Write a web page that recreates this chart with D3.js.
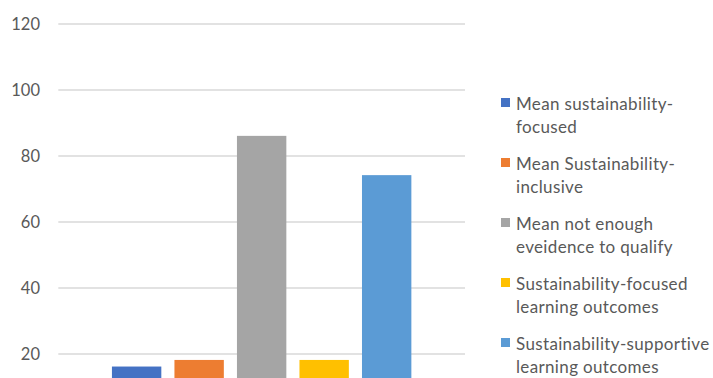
<!DOCTYPE html>
<html>
<head>
<meta charset="utf-8">
<script src="https://cdn.jsdelivr.net/npm/d3@7"></script>
<style>
html,body{margin:0;padding:0;background:#fff;overflow:hidden;}
svg{display:block;}
text{font-family:Lato,"Open Sans",sans-serif;}
</style>
</head>
<body>
<svg id="chart" width="713" height="378"></svg>
<script>
const seriesNames = [
  "Mean sustainability-\nfocused",
  "Mean Sustainability-\ninclusive",
  "Mean not enough\neveidence to qualify",
  "Sustainability-focused\nlearning outcomes",
  "Sustainability-supportive\nlearning outcomes"
];
const seriesValues = [16.2, 18.2, 86.1, 18.2, 74.2];
const seriesColors = ["#4472C4", "#ED7D31", "#A5A5A5", "#FFC000", "#5B9BD5"];
const yTicks = [20, 40, 60, 80, 100, 120];

const svg = d3.select("#chart");
const plot = {left: 58.3, right: 465, top: 24, bottom: 420};

const y = d3.scaleLinear().domain([0, 120]).range([plot.bottom, plot.top]);
const x = d3.scaleBand().domain(seriesNames).range([plot.left, plot.right])
  .paddingInner(0.21).paddingOuter(0.858);

// gridlines
svg.append("g").selectAll("line").data(yTicks).join("line")
  .attr("x1", plot.left).attr("x2", plot.right)
  .attr("y1", d => y(d)).attr("y2", d => y(d))
  .attr("stroke", "#d9d9d9").attr("stroke-width", 1.3);

// y axis labels
const yAxis = d3.axisLeft(y).tickValues(yTicks).tickSize(0).tickPadding(0);
const ga = svg.append("g").attr("transform", "translate(40,0)").call(yAxis);
ga.select(".domain").remove();
ga.selectAll("text").attr("fill", "#595959").attr("font-size", 16.5)
  .style("font-family", "Lato, 'Open Sans', sans-serif").attr("dy", "0.35em");

// bars
svg.append("g").selectAll("rect").data(seriesNames).join("rect")
  .attr("x", d => x(d)).attr("width", x.bandwidth())
  .attr("y", (d, i) => y(seriesValues[i]))
  .attr("height", (d, i) => y(0) - y(seriesValues[i]))
  .attr("fill", (d, i) => seriesColors[i]);

// legend
const lg = svg.append("g");
seriesNames.forEach((name, i) => {
  const base = 110 + i * 60;
  lg.append("rect").attr("x", 501).attr("y", base - 12).attr("width", 9).attr("height", 9)
    .attr("fill", seriesColors[i]);
  const t = lg.append("text").attr("x", 516).attr("y", base)
    .attr("fill", "#595959").attr("font-size", 17).attr("letter-spacing", 0.35);
  name.split("\n").forEach((line, j) => {
    t.append("tspan").attr("x", 516).attr("y", base + j * 23).text(line);
  });
});
</script>
</body>
</html>
